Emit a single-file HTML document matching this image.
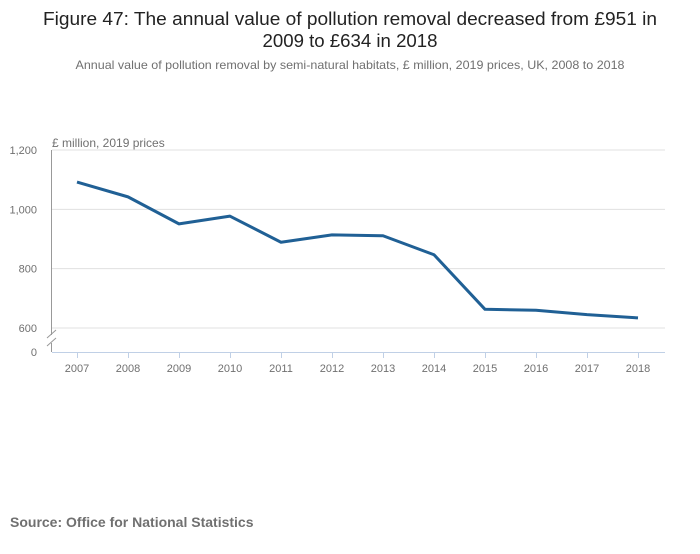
<!DOCTYPE html>
<html><head><meta charset="utf-8"><style>
body{margin:0;background:#fff;width:700px;height:549px;overflow:hidden;font-family:"Liberation Sans",sans-serif}
</style></head><body>
<svg id="chart" width="700" height="549" xmlns="http://www.w3.org/2000/svg" font-family="Liberation Sans, sans-serif">
<text x="350" y="25" text-anchor="middle" font-size="18" fill="#222" textLength="614" lengthAdjust="spacingAndGlyphs">Figure 47: The annual value of pollution removal decreased from £951 in</text>
<text x="350" y="47" text-anchor="middle" font-size="18" fill="#222" textLength="175" lengthAdjust="spacingAndGlyphs">2009 to £634 in 2018</text>
<text x="350" y="69" text-anchor="middle" font-size="12" fill="#707070" textLength="549" lengthAdjust="spacingAndGlyphs">Annual value of pollution removal by semi-natural habitats, £ million, 2019 prices, UK, 2008 to 2018</text>
<text x="52" y="147" font-size="12" fill="#707070">£ million, 2019 prices</text>
<g id="grid"></g>
<g id="axes"></g>
<path id="line" fill="none" stroke="#206095" stroke-width="3" stroke-linejoin="round"/>
<text x="10" y="527" font-size="14" font-weight="bold" fill="#707070">Source: Office for National Statistics</text>
</svg>
<script>
const years=[2007,2008,2009,2010,2011,2012,2013,2014,2015,2016,2017,2018];
const values=[1092,1042,951,977,889,914,911,847,663,660,645,634];
const yTicks=[600,800,1000,1200];
const yTickLabels=["600","800","1,000","1,200"];
const NS="http://www.w3.org/2000/svg";
const xS=i=>77+i*51;
const yS=v=>328-(v-600)*(178/600);
const grid=document.getElementById('grid'),axes=document.getElementById('axes');
function mk(tag,attrs,parent){const e=document.createElementNS(NS,tag);for(const k in attrs)e.setAttribute(k,attrs[k]);parent.appendChild(e);return e;}
yTicks.forEach((t,i)=>{
 const l=mk('line',{x1:52,x2:665,y1:yS(t),y2:yS(t),stroke:'#e0e0e0','stroke-width':1},grid);
 
 
 const tx=mk('text',{x:37,y:yS(t)+4,'text-anchor':'end','font-size':11,fill:'#707070'},axes);
 tx.textContent=yTickLabels[i];
 
 
});
const z=mk('text',{x:37,y:356,'text-anchor':'end','font-size':11,fill:'#707070'},axes);z.textContent="0";


const ya=mk('line',{x1:51.5,x2:51.5,y1:150,y2:335,stroke:'#999'},axes);


const yb=mk('line',{x1:51.5,x2:51.5,y1:343,y2:352,stroke:'#999'},axes);


const br=mk('path',{d:'M47,338 L56,330 M47,346 L56,338',stroke:'#999',fill:'none'},axes);


const xa=mk('line',{x1:52,x2:665,y1:352.5,y2:352.5,stroke:'#c0d0e6'},axes);


years.forEach((y,i)=>{
 const tk=mk('line',{x1:xS(i)+.5,x2:xS(i)+.5,y1:352,y2:358,stroke:'#c0d0e6'},axes);
 
 
 const t=mk('text',{x:xS(i),y:372,'text-anchor':'middle','font-size':11,fill:'#707070'},axes);
 t.textContent=y;
 
 
});
document.getElementById('line').setAttribute('d',values.map((v,i)=>(i?'L':'M')+xS(i)+','+yS(v)).join(' '));
</script>
</body></html>
